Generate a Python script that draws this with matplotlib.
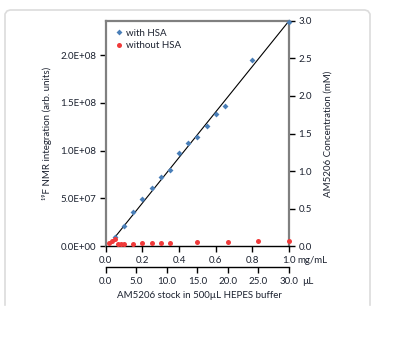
import matplotlib
matplotlib.use('Agg')
import matplotlib.pyplot as plt
from matplotlib.lines import Line2D

plt.rcParams['font.family'] = ['Lato', 'DejaVu Sans']
plt.rcParams['font.size'] = 7
text_col = '#1c2230'

# with HSA: 19F NMR integration vs AM5206 (mg/mL)
hsa_mg = [0.05, 0.10, 0.15, 0.20, 0.25, 0.30, 0.35, 0.40, 0.45, 0.50, 0.55, 0.60, 0.65, 0.80, 1.00]
hsa_int = [9.0e6, 2.1e7, 3.6e7, 4.9e7, 6.1e7, 7.2e7, 8.0e7, 9.8e7, 1.08e8, 1.14e8,
           1.26e8, 1.38e8, 1.47e8, 1.95e8, 2.35e8]

# without HSA
free_mg = [0.017, 0.033, 0.05, 0.067, 0.083, 0.10, 0.15, 0.20, 0.25, 0.30, 0.35,
           0.50, 0.667, 0.833, 1.00]
free_int = [2.8e6, 5.5e6, 7.0e6, 2.1e6, 2.1e6, 2.1e6, 2.4e6, 2.8e6, 3.1e6, 3.1e6,
            2.8e6, 3.8e6, 4.2e6, 4.9e6, 5.5e6]

# AM5206 concentration line (right axis)
line_mg = [0.05, 1.00]
line_mM = [0.12, 3.00]

mg_ticks = [0.0, 0.2, 0.4, 0.6, 0.8, 1.0]
ul_ticks = [0, 5, 10, 15, 20, 25, 30]
left_ticks = [0, 5e7, 1e8, 1.5e8, 2e8]
left_labels = ['0.0E+00', '5.0E+07', '1.0E+08', '1.5E+08', '2.0E+08']
right_ticks = [0, 0.5, 1.0, 1.5, 2.0, 2.5, 3.0]

fig = plt.figure(figsize=(3.98, 3.38), dpi=100)
ax = fig.add_axes([0.266, 0.272, 0.460, 0.666])
ax2 = ax.twinx()
ax.set_zorder(ax2.get_zorder() + 1)
ax.patch.set_visible(False)

ax.plot(hsa_mg, hsa_int, 'D', color='#4a7fb8', ms=3, mew=0, label='with HSA',
        zorder=3, clip_on=False)
ax.plot(free_mg, free_int, 'o', color='#f03a3a', ms=3.6, mew=0, label='without HSA',
        zorder=3, clip_on=False)
ax2.plot(line_mg, line_mM, color='black', lw=0.8)

ax.set_xlim(0, 1.0)
ax.set_ylim(0, 2.36e8)
ax2.set_ylim(0, 3.0)

ax.set_xticks(mg_ticks)
ax.set_xticklabels(['%.1f' % t for t in mg_ticks])
ax.set_yticks(left_ticks)
ax.set_yticklabels(left_labels)
ax2.set_yticks(right_ticks)
ax2.set_yticklabels(['%.1f' % t for t in right_ticks])

for a in (ax, ax2):
    a.tick_params(direction='out', length=4, width=1, colors='black', labelcolor=text_col, pad=3)

ax.spines['right'].set_visible(False)
ax.spines['left'].set_color('#808080')
ax.spines['left'].set_linewidth(1.6)
ax.spines['top'].set_color('#808080')
ax.spines['top'].set_linewidth(1.6)
ax.spines['bottom'].set_linewidth(1)
for s in ('top', 'left', 'bottom'):
    ax2.spines[s].set_visible(False)
ax2.spines['right'].set_color('#808080')
ax2.spines['right'].set_linewidth(1.6)

# second x axis in uL
sec = ax.secondary_xaxis(-0.093, functions=(lambda x: x * 30, lambda x: x / 30))
sec.set_xticks(ul_ticks)
sec.set_xticklabels(['%.1f' % t for t in ul_ticks])
sec.tick_params(direction='out', length=4, width=1, labelcolor=text_col, pad=3)
sec.spines['bottom'].set_linewidth(1)

ax.annotate('mg/mL', xy=(1.0, 0), xycoords='axes fraction', xytext=(5.8, -7.3),
            textcoords='offset points', ha='left', va='top', color=text_col)
ax.annotate('µL', xy=(1.0, 0), xycoords='axes fraction', xytext=(9.5, -22.4),
            textcoords='offset points', ha='left', va='top', color=text_col)

ax.set_ylabel('¹⁹F NMR integration (arb. units)', color=text_col, labelpad=6)
ax2.set_ylabel('AM5206 Concentration (mM)', color=text_col, labelpad=8)
fig.text(0.50, 0.125, 'AM5206 stock in 500µL HEPES buffer', ha='center', va='center', color=text_col)

ax.legend(loc='upper left', frameon=False, handletextpad=0.3, handlelength=1.0,
          borderaxespad=0.4, labelspacing=0.35, labelcolor=text_col)

# card border (left, top, right)
W, H = 398.0, 338.0
xs = [5, 5, 7, 10, 365, 368, 370, 370]
ys = [305, 14, 11, 10, 10, 11, 14, 305]
fig.add_artist(Line2D([x / W for x in xs], [1 - y / H for y in ys], color='#dcdcdc', lw=1.2,
                      transform=fig.transFigure))

fig.savefig('out.png', dpi=100)
